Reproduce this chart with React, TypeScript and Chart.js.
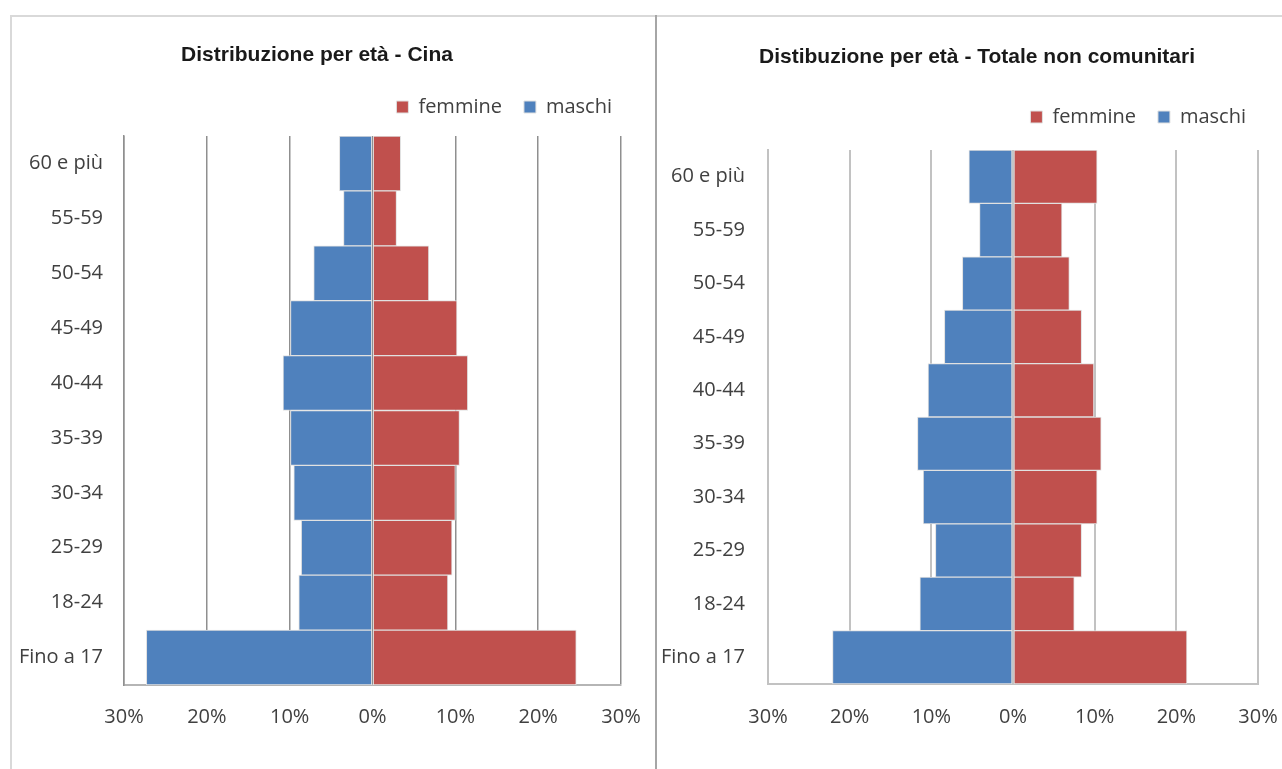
import React, { useEffect, useRef } from "react";
import { Chart, registerables } from "chart.js";

Chart.register(...registerables);

// ---------- data ----------
const categories = [
  "60 e più",
  "55-59",
  "50-54",
  "45-49",
  "40-44",
  "35-39",
  "30-34",
  "25-29",
  "18-24",
  "Fino a 17",
];

const cinaFemmine = [3.4, 2.9, 6.8, 10.2, 11.5, 10.5, 10.0, 9.6, 9.1, 24.6];
const cinaMaschi = [4.0, 3.5, 7.1, 9.9, 10.8, 9.9, 9.5, 8.6, 8.9, 27.3];

const totFemmine = [10.3, 6.0, 6.9, 8.4, 9.9, 10.8, 10.3, 8.4, 7.5, 21.3];
const totMaschi = [5.4, 4.1, 6.2, 8.4, 10.4, 11.7, 11.0, 9.5, 11.4, 22.1];

const xTickValues = [-30, -20, -10, 0, 10, 20, 30];

const titleCina = "Distribuzione per età - Cina";
const titleTotale = "Distibuzione per età - Totale non comunitari";
const labelFemmine = "femmine";
const labelMaschi = "maschi";

// ---------- styles ----------
const RED = "#C0504D";
const BLUE = "#4F81BD";
const EDGE = "rgba(225,225,225,1)";
const TEXT = "#404040";
const FONT = "'Open Sans', 'DejaVu Sans', sans-serif";
const TITLE_FONT = "'Liberation Sans', Arial, sans-serif";

type Geom = {
  left: number;
  width: number;
  padL: number;
  padR: number;
  yAxisW: number;
  y2W: number;
  topGap: number;
  yPad: number;
  xAxisH: number;
  xTickLen: number;
  titleTop: number;
  titleBottom: number;
  gridColor: string;
  gridWidth: number;
  axisColor: string;
};

const geomLeft: Geom = {
  left: 0,
  width: 655,
  padL: 0,
  padR: 21,
  yAxisW: 124,
  y2W: 13,
  topGap: 9,
  yPad: 21,
  xAxisH: 84,
  xTickLen: 20,
  titleTop: 42.4,
  titleBottom: 7.4,
  gridColor: "#8f8f8f",
  gridWidth: 1.5,
  axisColor: "#b5b5b5",
};

const geomRight: Geom = {
  left: 657,
  width: 625,
  padL: 29,
  padR: 14,
  yAxisW: 82,
  y2W: 10,
  topGap: 13,
  yPad: 23,
  xAxisH: 85,
  xTickLen: 21,
  titleTop: 44.4,
  titleBottom: 15.4,
  gridColor: "#c2c2c2",
  gridWidth: 2,
  axisColor: "#c2c2c2",
};

const H = 769;

function buildConfig(title: string, femmine: number[], maschi: number[], g: Geom): any {
  return {
    type: "bar",
    data: {
      labels: categories,
      datasets: [
        {
          label: labelFemmine,
          data: femmine,
          backgroundColor: RED,
          borderColor: EDGE,
          borderWidth: 1,
          borderSkipped: false,
          barPercentage: 1,
          categoryPercentage: 1,
        },
        {
          label: labelMaschi,
          data: maschi.map((v) => -v),
          backgroundColor: BLUE,
          borderColor: EDGE,
          borderWidth: 1,
          borderSkipped: false,
          barPercentage: 1,
          categoryPercentage: 1,
        },
      ],
    },
    options: {
      indexAxis: "y",
      animation: false,
      responsive: false,
      maintainAspectRatio: false,
      events: [],
      layout: { padding: { left: g.padL, right: g.padR, top: 0, bottom: 0 } },
      plugins: {
        title: {
          display: true,
          text: title,
          color: "#1a1a1a",
          font: { family: TITLE_FONT, weight: "bold", size: 21, lineHeight: 1.2 },
          padding: { top: g.titleTop, bottom: g.titleBottom },
        },
        legend: {
          display: true,
          position: "top",
          align: "end",
          labels: {
            boxWidth: 12,
            boxHeight: 12,
            padding: 22,
            color: TEXT,
            font: { family: FONT, size: 20 },
          },
        },
        tooltip: { enabled: false },
      },
      scales: {
        x: {
          type: "linear",
          min: -30,
          max: 30,
          stacked: true,
          afterBuildTicks: (s: any) => {
            s.ticks = xTickValues.map((v) => ({ value: v }));
          },
          ticks: {
            callback: (v: any) => Math.abs(Number(v)) + "%",
            padding: 0,
            color: TEXT,
            font: { family: FONT, size: 20 },
            maxRotation: 0,
            autoSkip: false,
          },
          grid: {
            color: g.gridColor,
            lineWidth: g.gridWidth,
            drawTicks: true,
            tickLength: g.xTickLen,
            tickColor: "rgba(0,0,0,0)",
          },
          border: { display: true, color: g.axisColor, width: 2 },
          afterFit: (s: any) => {
            s.height = g.xAxisH;
          },
        },
        xTop: {
          type: "linear",
          position: "top",
          min: -30,
          max: 30,
          display: true,
          grid: { display: false, drawTicks: false },
          border: { display: false },
          ticks: { display: false },
          afterFit: (s: any) => {
            s.height = g.topGap;
          },
        },
        y: {
          stacked: true,
          grid: { display: false, drawTicks: false },
          border: { display: true, color: g.gridColor, width: g.gridWidth },
          ticks: {
            padding: g.yPad,
            color: TEXT,
            font: { family: FONT, size: 20 },
            autoSkip: false,
          },
          afterFit: (s: any) => {
            s.width = g.yAxisW;
            // let the category labels extend past the axis box
            s._computeLabelArea = () => undefined;
          },
        },
        y2: {
          type: "category",
          labels: categories,
          position: "right",
          display: true,
          grid: { display: false, drawTicks: false },
          border: { display: false },
          ticks: { display: false },
          afterFit: (s: any) => {
            s.width = g.y2W;
          },
        },
      },
    },
  };
}

function Pyramid({ title, femmine, maschi, g }: { title: string; femmine: number[]; maschi: number[]; g: Geom }) {
  const ref = useRef<HTMLCanvasElement>(null);
  useEffect(() => {
    const chart = new Chart(ref.current as HTMLCanvasElement, buildConfig(title, femmine, maschi, g));
    return () => chart.destroy();
  }, []);
  return (
    <canvas
      ref={ref}
      width={g.width}
      height={H}
      style={{ position: "absolute", left: g.left, top: 0, width: g.width, height: H }}
    />
  );
}

export default function App() {
  return (
    <div
      style={{
        position: "fixed",
        left: 0,
        top: 0,
        width: 1282,
        height: H,
        background: "#ffffff",
        overflow: "hidden",
      }}
    >
      <Pyramid title={titleCina} femmine={cinaFemmine} maschi={cinaMaschi} g={geomLeft} />
      <Pyramid title={titleTotale} femmine={totFemmine} maschi={totMaschi} g={geomRight} />
      {/* sheet frame lines */}
      <div style={{ position: "absolute", left: 10, top: 15, width: 1272, height: 2, background: "#d9d9d9" }} />
      <div style={{ position: "absolute", left: 10, top: 15, width: 2, height: H - 15, background: "#d9d9d9" }} />
      <div style={{ position: "absolute", left: 655, top: 15, width: 2, height: H - 15, background: "#a6a6a6" }} />
    </div>
  );
}
